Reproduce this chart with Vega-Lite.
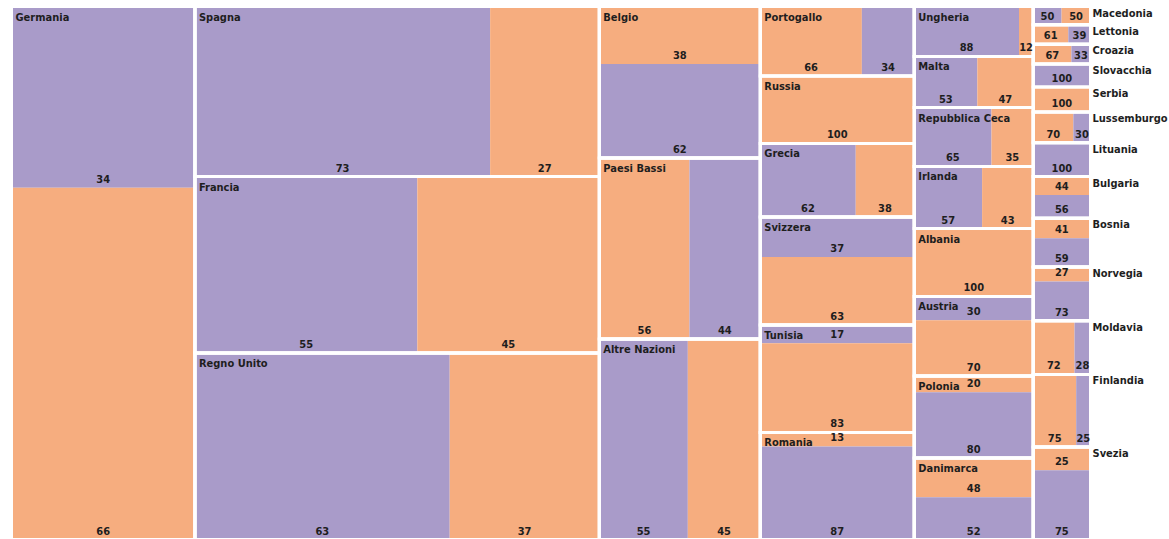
{
  "$schema": "https://vega.github.io/schema/vega-lite/v6.json",
  "width": 1079,
  "height": 533,
  "autosize": "none",
  "padding": {"left": 11.5, "top": 6.5, "right": 78.5, "bottom": 0},
  "background": "#ffffff",
  "config": {"view": {"stroke": null}},
  "data": {
    "values": [
      {"colonna": 1, "paese": "Germania", "gruppo": "A", "n": 3326},
      {"colonna": 1, "paese": "Germania", "gruppo": "B", "n": 6455},
      {"colonna": 2, "paese": "Spagna", "gruppo": "A", "n": 5020},
      {"colonna": 2, "paese": "Spagna", "gruppo": "B", "n": 1857},
      {"colonna": 2, "paese": "Francia", "gruppo": "A", "n": 3926},
      {"colonna": 2, "paese": "Francia", "gruppo": "B", "n": 3213},
      {"colonna": 2, "paese": "Regno Unito", "gruppo": "A", "n": 4753},
      {"colonna": 2, "paese": "Regno Unito", "gruppo": "B", "n": 2791},
      {"colonna": 3, "paese": "Belgio", "gruppo": "B", "n": 927},
      {"colonna": 3, "paese": "Belgio", "gruppo": "A", "n": 1512},
      {"colonna": 3, "paese": "Paesi Bassi", "gruppo": "B", "n": 1632},
      {"colonna": 3, "paese": "Paesi Bassi", "gruppo": "A", "n": 1282},
      {"colonna": 3, "paese": "Altre Nazioni", "gruppo": "A", "n": 1775},
      {"colonna": 3, "paese": "Altre Nazioni", "gruppo": "B", "n": 1453},
      {"colonna": 4, "paese": "Portogallo", "gruppo": "B", "n": 706},
      {"colonna": 4, "paese": "Portogallo", "gruppo": "A", "n": 364},
      {"colonna": 4, "paese": "Russia", "gruppo": "B", "n": 1040},
      {"colonna": 4, "paese": "Grecia", "gruppo": "A", "n": 702},
      {"colonna": 4, "paese": "Grecia", "gruppo": "B", "n": 430},
      {"colonna": 4, "paese": "Svizzera", "gruppo": "A", "n": 615},
      {"colonna": 4, "paese": "Svizzera", "gruppo": "B", "n": 1048},
      {"colonna": 4, "paese": "Tunisia", "gruppo": "A", "n": 282},
      {"colonna": 4, "paese": "Tunisia", "gruppo": "B", "n": 1374},
      {"colonna": 4, "paese": "Romania", "gruppo": "B", "n": 214},
      {"colonna": 4, "paese": "Romania", "gruppo": "A", "n": 1434},
      {"colonna": 5, "paese": "Ungheria", "gruppo": "A", "n": 524},
      {"colonna": 5, "paese": "Ungheria", "gruppo": "B", "n": 71},
      {"colonna": 5, "paese": "Malta", "gruppo": "A", "n": 322},
      {"colonna": 5, "paese": "Malta", "gruppo": "B", "n": 285},
      {"colonna": 5, "paese": "Repubblica Ceca", "gruppo": "A", "n": 456},
      {"colonna": 5, "paese": "Repubblica Ceca", "gruppo": "B", "n": 246},
      {"colonna": 5, "paese": "Irlanda", "gruppo": "A", "n": 421},
      {"colonna": 5, "paese": "Irlanda", "gruppo": "B", "n": 317},
      {"colonna": 5, "paese": "Albania", "gruppo": "B", "n": 809},
      {"colonna": 5, "paese": "Austria", "gruppo": "A", "n": 284},
      {"colonna": 5, "paese": "Austria", "gruppo": "B", "n": 662},
      {"colonna": 5, "paese": "Polonia", "gruppo": "B", "n": 195},
      {"colonna": 5, "paese": "Polonia", "gruppo": "A", "n": 781},
      {"colonna": 5, "paese": "Danimarca", "gruppo": "B", "n": 466},
      {"colonna": 5, "paese": "Danimarca", "gruppo": "A", "n": 504},
      {"colonna": 6, "paese": "Macedonia", "gruppo": "A", "n": 52},
      {"colonna": 6, "paese": "Macedonia", "gruppo": "B", "n": 53},
      {"colonna": 6, "paese": "Lettonia", "gruppo": "B", "n": 68},
      {"colonna": 6, "paese": "Lettonia", "gruppo": "A", "n": 43},
      {"colonna": 6, "paese": "Croazia", "gruppo": "B", "n": 76},
      {"colonna": 6, "paese": "Croazia", "gruppo": "A", "n": 38},
      {"colonna": 6, "paese": "Slovacchia", "gruppo": "A", "n": 131},
      {"colonna": 6, "paese": "Serbia", "gruppo": "B", "n": 143},
      {"colonna": 6, "paese": "Lussemburgo", "gruppo": "B", "n": 124},
      {"colonna": 6, "paese": "Lussemburgo", "gruppo": "A", "n": 53},
      {"colonna": 6, "paese": "Lituania", "gruppo": "A", "n": 194},
      {"colonna": 6, "paese": "Bulgaria", "gruppo": "B", "n": 105},
      {"colonna": 6, "paese": "Bulgaria", "gruppo": "A", "n": 134},
      {"colonna": 6, "paese": "Bosnia", "gruppo": "B", "n": 114},
      {"colonna": 6, "paese": "Bosnia", "gruppo": "A", "n": 165},
      {"colonna": 6, "paese": "Norvegia", "gruppo": "B", "n": 83},
      {"colonna": 6, "paese": "Norvegia", "gruppo": "A", "n": 225},
      {"colonna": 6, "paese": "Moldavia", "gruppo": "B", "n": 222},
      {"colonna": 6, "paese": "Moldavia", "gruppo": "A", "n": 86},
      {"colonna": 6, "paese": "Finlandia", "gruppo": "B", "n": 312},
      {"colonna": 6, "paese": "Finlandia", "gruppo": "A", "n": 104},
      {"colonna": 6, "paese": "Svezia", "gruppo": "B", "n": 133},
      {"colonna": 6, "paese": "Svezia", "gruppo": "A", "n": 397}
    ]
  },
  "transform": [
    {"window": [{"op": "row_number", "as": "idx"}]},
    {"joinaggregate": [{"op": "sum", "field": "n", "as": "ctot"}], "groupby": ["paese"]},
    {"joinaggregate": [{"op": "sum", "field": "n", "as": "coltot"}], "groupby": ["colonna"]},
    {"window": [{"op": "sum", "field": "n", "as": "gcum"}], "sort": [{"field": "idx"}], "frame": [null, 0]},
    {"calculate": "datum.gcum - datum.n", "as": "gstart"},
    {"joinaggregate": [{"op": "min", "field": "gstart", "as": "cx0"}], "groupby": ["colonna"]},
    {"window": [{"op": "sum", "field": "n", "as": "ccum"}], "groupby": ["colonna"], "sort": [{"field": "idx"}], "frame": [null, 0]},
    {"calculate": "datum.ccum - datum.n", "as": "cstart"},
    {"joinaggregate": [{"op": "min", "field": "cstart", "as": "py0n"}], "groupby": ["paese"]},
    {"window": [{"op": "sum", "field": "n", "as": "pcum"}], "groupby": ["paese"], "sort": [{"field": "idx"}], "frame": [null, 0]},
    {"calculate": "datum.cx0 + datum.coltot", "as": "cx1"},
    {"calculate": "datum.py0n / datum.coltot", "as": "py0"},
    {"calculate": "(datum.py0n + datum.ctot) / datum.coltot", "as": "py1"},
    {"calculate": "(datum.pcum - datum.n) / datum.ctot", "as": "f0"},
    {"calculate": "datum.pcum / datum.ctot", "as": "f1"},
    {"calculate": "indexof(['Germania','Belgio','Svizzera','Tunisia','Romania','Austria','Polonia','Danimarca','Bulgaria','Bosnia','Norvegia','Svezia'], datum.paese) >= 0", "as": "verticale"},
    {"calculate": "datum.verticale ? datum.cx0 : datum.cx0 + datum.f0 * datum.coltot", "as": "x0"},
    {"calculate": "datum.verticale ? datum.cx1 : datum.cx0 + datum.f1 * datum.coltot", "as": "x1"},
    {"calculate": "datum.verticale ? datum.py0 + datum.f0 * (datum.py1 - datum.py0) : datum.py0", "as": "y0"},
    {"calculate": "datum.verticale ? datum.py0 + datum.f1 * (datum.py1 - datum.py0) : datum.py1", "as": "y1"},
    {"calculate": "(datum.x0 + datum.x1) / 2", "as": "xm"},
    {"calculate": "round(100 * datum.n / datum.ctot)", "as": "pct"}
  ],
  "layer": [
    {
      "mark": {"type": "rect"},
      "encoding": {
        "x": {"field": "x0", "type": "quantitative", "axis": null, "scale": {"zero": true, "nice": false}},
        "x2": {"field": "x1"},
        "y": {"field": "y0", "type": "quantitative", "axis": null, "scale": {"domain": [0, 1], "reverse": true, "nice": false}},
        "y2": {"field": "y1"},
        "color": {"field": "gruppo", "type": "nominal", "legend": null, "scale": {"domain": ["A", "B"], "range": ["#a99bc9", "#f6ad7f"]}}
      }
    },
    {
      "mark": {"type": "rect", "fill": null, "fillOpacity": 0, "stroke": "#ffffff", "strokeWidth": 3},
      "encoding": {
        "x": {"field": "cx0", "type": "quantitative"},
        "x2": {"field": "cx1"},
        "y": {"field": "py0", "type": "quantitative"},
        "y2": {"field": "py1"}
      }
    },
    {
      "mark": {"type": "text", "align": "center", "baseline": "alphabetic", "dy": -5, "font": "DejaVu Sans Condensed, Liberation Sans Narrow, sans-serif", "fontWeight": "bold", "fontSize": 11, "color": "#1e1e1e"},
      "encoding": {
        "x": {"field": "xm", "type": "quantitative"},
        "y": {"field": "y1", "type": "quantitative"},
        "text": {"field": "pct", "type": "quantitative"}
      }
    },
    {
      "transform": [{"filter": "datum.colonna != 6 && datum.f0 == 0"}],
      "mark": {"type": "text", "align": "left", "baseline": "top", "dx": 4, "dy": 5, "font": "DejaVu Sans Condensed, Liberation Sans Narrow, sans-serif", "fontWeight": "bold", "fontSize": 11, "color": "#1e1e1e"},
      "encoding": {
        "x": {"field": "cx0", "type": "quantitative"},
        "y": {"field": "py0", "type": "quantitative"},
        "text": {"field": "paese", "type": "nominal"}
      }
    },
    {
      "transform": [{"filter": "datum.colonna == 6 && datum.f0 == 0"}],
      "mark": {"type": "text", "align": "left", "baseline": "top", "dx": 2, "dy": 1, "font": "DejaVu Sans Condensed, Liberation Sans Narrow, sans-serif", "fontWeight": "bold", "fontSize": 11, "color": "#1e1e1e"},
      "encoding": {
        "x": {"field": "cx1", "type": "quantitative"},
        "y": {"field": "py0", "type": "quantitative"},
        "text": {"field": "paese", "type": "nominal"}
      }
    }
  ]
}
